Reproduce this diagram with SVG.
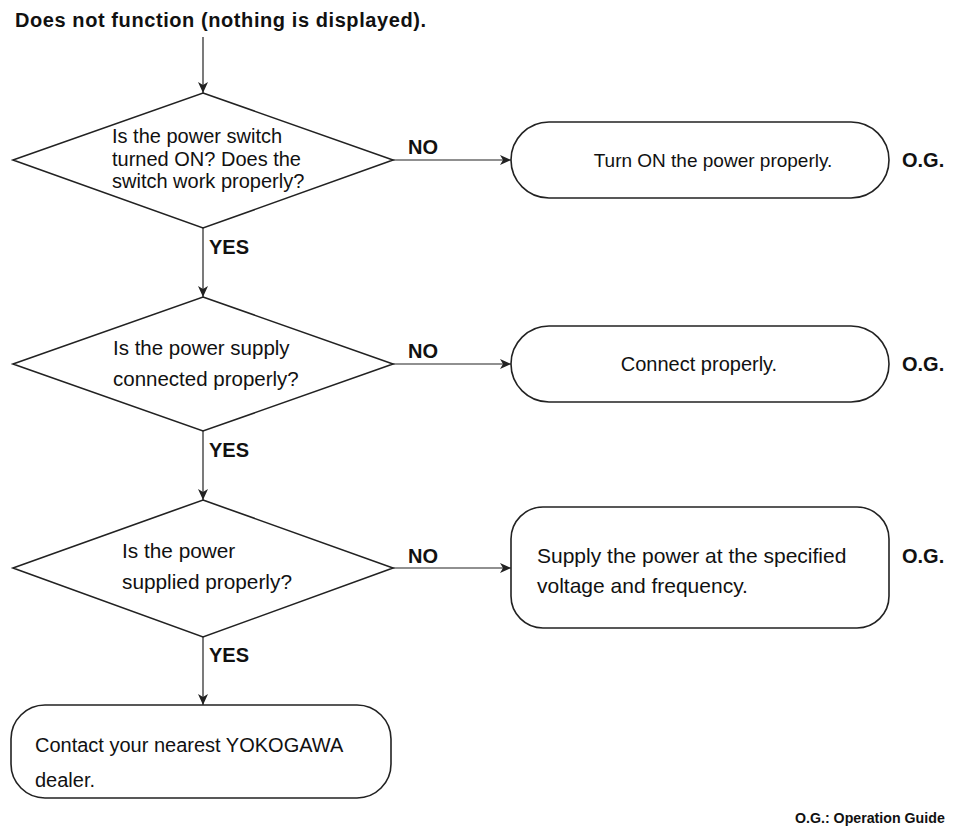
<svg xmlns="http://www.w3.org/2000/svg" width="955" height="826" viewBox="0 0 955 826">
<defs>
<marker id="arr" markerWidth="12" markerHeight="10" refX="11" refY="5" orient="auto" markerUnits="userSpaceOnUse">
<path d="M0,0 L11,5 L0,10 L3,5 Z" fill="#222"/>
</marker>
<style>
.shape{fill:#fff;stroke:#222;stroke-width:1.6}
.conn{fill:none;stroke:#222;stroke-width:1.2;marker-end:url(#arr)}
.t{font-family:"Liberation Sans",Arial,sans-serif;font-size:20px;fill:#111}
.b{font-family:"Liberation Sans",Arial,sans-serif;font-size:20px;font-weight:bold;fill:#111}
.c{text-anchor:middle}
</style>
</defs>
<rect width="955" height="826" fill="#fff"/>
<text class="b" x="15" y="27" textLength="411">Does not function (nothing is displayed).</text>

<g id="connectors">
<line class="conn" x1="203" y1="37" x2="203" y2="93"/>
<line class="conn" x1="393" y1="160" x2="511" y2="160"/>
<line class="conn" x1="203" y1="228" x2="203" y2="297"/>
<line class="conn" x1="393" y1="364" x2="511" y2="364"/>
<line class="conn" x1="203" y1="431" x2="203" y2="500"/>
<line class="conn" x1="393" y1="568" x2="511" y2="568"/>
<line class="conn" x1="203" y1="637" x2="203" y2="705"/>
<text class="b" x="408" y="154">NO</text>
<text class="b" x="408" y="358">NO</text>
<text class="b" x="408" y="563">NO</text>
<text class="b" x="209" y="254">YES</text>
<text class="b" x="209" y="457">YES</text>
<text class="b" x="209" y="662">YES</text>
</g>

<g id="q1">
<polygon class="shape" points="203,93 393,160 203,228 13,160"/>
<text class="t" x="112" y="143">Is the power switch</text>
<text class="t" x="112" y="166">turned ON? Does the</text>
<text class="t" x="112" y="188">switch work properly?</text>
</g>
<g id="a1">
<rect class="shape" x="511" y="122" width="378" height="76" rx="38" ry="38"/>
<text class="t c" x="713" y="167" style="font-size:19px">Turn ON the power properly.</text>
</g>
<text class="b" x="902" y="167">O.G.</text>

<g id="q2">
<polygon class="shape" points="203,297 393,364 203,431 13,364"/>
<text class="t" x="113" y="355" style="font-size:20.5px">Is the power supply</text>
<text class="t" x="113" y="386" style="font-size:20.5px">connected properly?</text>
</g>
<g id="a2">
<rect class="shape" x="511" y="326" width="378" height="76" rx="38" ry="38"/>
<text class="t c" x="699" y="371">Connect properly.</text>
</g>
<text class="b" x="902" y="371">O.G.</text>

<g id="q3">
<polygon class="shape" points="203,500 393,568 203,637 13,568"/>
<text class="t" x="122" y="558" style="font-size:20.8px">Is the power</text>
<text class="t" x="122" y="589" style="font-size:20.8px">supplied properly?</text>
</g>
<g id="a3">
<rect class="shape" x="511" y="507" width="378" height="121" rx="32" ry="32"/>
<text class="t" x="537" y="563" style="font-size:21px">Supply the power at the specified</text>
<text class="t" x="537" y="593" style="font-size:21px">voltage and frequency.</text>
</g>
<text class="b" x="902" y="563">O.G.</text>

<g id="end">
<rect class="shape" x="11" y="705" width="380" height="93" rx="34" ry="34"/>
<text class="t" x="35" y="752">Contact your nearest YOKOGAWA</text>
<text class="t" x="35" y="787">dealer.</text>
</g>

<text class="b" x="795" y="823" style="font-size:14.2px">O.G.: Operation Guide</text>
</svg>
